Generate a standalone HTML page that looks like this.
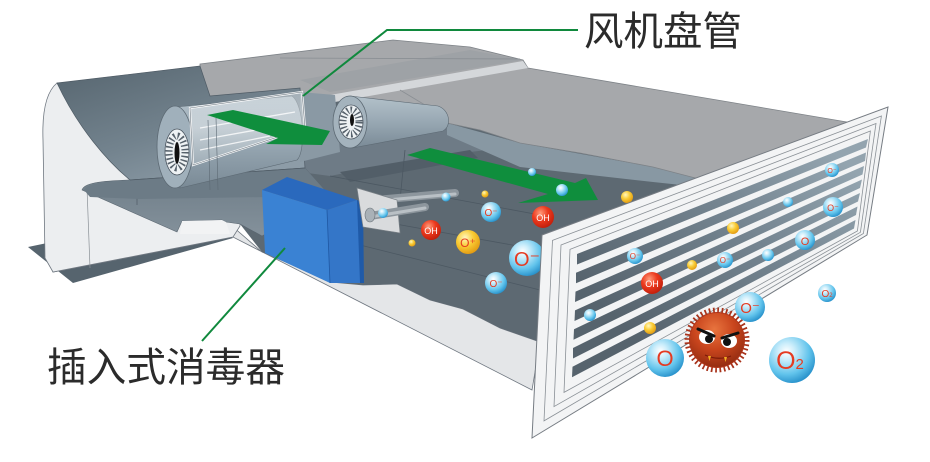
<!DOCTYPE html>
<html><head><meta charset="utf-8"><style>
html,body{margin:0;padding:0;background:#fff;}
svg{display:block;}
</style></head><body>
<svg width="930" height="462" viewBox="0 0 930 462" xmlns="http://www.w3.org/2000/svg">
<defs>
<linearGradient id="hous" x1="0" y1="0" x2="0.7" y2="1">
<stop offset="0" stop-color="#56656f"/><stop offset="0.6" stop-color="#73838e"/><stop offset="1" stop-color="#8d9ca7"/></linearGradient>
<linearGradient id="cyl" x1="0" y1="0" x2="0" y2="1">
<stop offset="0" stop-color="#b3c1ca"/><stop offset="0.5" stop-color="#98a8b3"/><stop offset="1" stop-color="#7a8a96"/></linearGradient>
<linearGradient id="under" x1="0" y1="0" x2="0" y2="1">
<stop offset="0" stop-color="#6c7b86"/><stop offset="1" stop-color="#84919b"/></linearGradient>
<linearGradient id="coil" x1="0" y1="0" x2="0" y2="1">
<stop offset="0" stop-color="#dfe5e9"/><stop offset="0.5" stop-color="#f4f6f7"/><stop offset="1" stop-color="#b9c5cc"/></linearGradient>
<linearGradient id="slat" gradientUnits="userSpaceOnUse" x1="820" y1="140" x2="640" y2="340">
<stop offset="0" stop-color="#93a4af"/><stop offset="0.45" stop-color="#73838f"/><stop offset="1" stop-color="#56636d"/></linearGradient>
<radialGradient id="bb" cx="0.38" cy="0.32" r="0.7">
<stop offset="0" stop-color="#ffffff"/><stop offset="0.25" stop-color="#cdeefb"/><stop offset="0.7" stop-color="#62c4ec"/><stop offset="1" stop-color="#2a93cc"/></radialGradient>
<radialGradient id="rb" cx="0.38" cy="0.32" r="0.7">
<stop offset="0" stop-color="#ff9a7a"/><stop offset="0.5" stop-color="#ec3a1e"/><stop offset="1" stop-color="#c21f0b"/></radialGradient>
<radialGradient id="yb" cx="0.38" cy="0.32" r="0.7">
<stop offset="0" stop-color="#fff7c0"/><stop offset="0.5" stop-color="#f9cc35"/><stop offset="1" stop-color="#e39b12"/></radialGradient>
<radialGradient id="germ" cx="0.45" cy="0.3" r="0.75">
<stop offset="0" stop-color="#e8743e"/><stop offset="0.5" stop-color="#c9451d"/><stop offset="1" stop-color="#8e2a10"/></radialGradient>
</defs>

<!-- dark base plate -->
<polygon points="28,247 73,283 233,238 222,232 52,242" fill="#56646e"/>
<!-- front light wall -->
<polygon points="45,250 53,272 233,237 532,390 540,342 500,328 463,309 430,300 397,284 363,285 330,282 300,268 262,252 232,226 180,225 90,200" fill="#e4e6e8" stroke="#6f7780" stroke-width="0.8"/>
<!-- dark floor -->
<polygon points="300,75 450,105 720,180 542,237 540,342 500,328 463,309 430,300 397,284 363,285 330,282 300,268 262,252 240,224 240,190 320,168" fill="#5d6972"/>
<!-- lighter slate region behind arrow2 -->
<polygon points="300,128 447,124 520,146 470,152 400,162 330,176 300,172" fill="#6e7b86"/>
<polygon points="340,172 470,150 478,158 350,182" fill="#525e68"/>
<g stroke="#4c5862" stroke-width="0.8" fill="none">
<line x1="262" y1="200" x2="540" y2="250"/>
<line x1="330" y1="176" x2="540" y2="215"/>
<line x1="405" y1="150" x2="400" y2="200"/>
<line x1="300" y1="230" x2="540" y2="290"/>
</g>
<!-- back wall band -->
<polygon points="447,123 520,143 653,167 703,180 700,187 653,182 520,167 447,135" fill="#8898a3"/>
<!-- top plate -->
<polygon points="200,64 393,40 470,47 523,60 528,68 847,122 703,180 653,167 580,153 520,143 480,130 447,123 430,108 390,107 333,97 300,93 210,98 200,90" fill="#a6a8ab" stroke="#7e8388" stroke-width="0.8"/>
<polygon points="300,80 470,50 523,60 330,92" fill="#9ea2a6"/>
<polygon points="330,95 523,61 528,68 335,102" fill="#d4d7da"/>
<line x1="280" y1="58" x2="520" y2="59" stroke="#8a8f94" stroke-width="0.8"/>
<line x1="400" y1="90" x2="430" y2="108" stroke="#8a8f94" stroke-width="0.8"/>

<!-- white end cap / foot -->
<path d="M57,83 C46,92 42,112 43,140 L45,258 L53,272 L233,237 L240,226 L240,195 L130,180 Z" fill="#eceef0" stroke="#6f7780" stroke-width="0.8"/>
<!-- under-housing gray -->
<path d="M82,190 C84,183 100,181 130,180 L305,168 L330,196 L300,215 L262,236 L240,224 L226,222 L222,220 L182,221 L177,232 Z" fill="url(#under)" stroke="#5a6670" stroke-width="0.6"/>
<polygon points="182,221 222,220 226,222 230,234 180,234" fill="#f2f3f4"/>
<line x1="137" y1="107" x2="137" y2="205" stroke="#4f5b65" stroke-width="0.7"/>
<line x1="87" y1="188" x2="90" y2="268" stroke="#8a9096" stroke-width="0.7"/>
<!-- housing -->
<path d="M57,83 L200,66 L210,96 L300,88 L305,168 L130,180 C108,162 78,128 57,83 Z" fill="url(#hous)" stroke="#4f5b65" stroke-width="0.7"/>
<path d="M84,190 C87,184 100,182 130,180 L305,168 L330,196 L140,199 L90,197 Z" fill="#6c7b86"/>
<line x1="130" y1="180" x2="305" y2="168" stroke="#4f5b65" stroke-width="0.7"/>

<!-- fan 2 housing -->
<polygon points="300,92 335,95 340,152 300,162" fill="#8a99a4"/>
<!-- fan 2 cylinder -->
<path d="M350,96 L438,106 C450,110 452,126 443,131 L352,148 Z" fill="url(#cyl)" stroke="#5d6a74" stroke-width="0.6"/>
<ellipse cx="350" cy="122" rx="17" ry="26" fill="#a4b3bd" stroke="#5d6a74" stroke-width="0.8"/>
<ellipse cx="351" cy="122" rx="12" ry="17" fill="#eef2f4" stroke="#4a5560" stroke-width="0.8"/>
<ellipse cx="351" cy="122" rx="8" ry="12" fill="none" stroke="#56616b" stroke-width="7" stroke-dasharray="1.4 2.2"/>
<ellipse cx="352" cy="120" rx="2" ry="6" fill="#111"/>

<!-- fan 1 cylinder -->
<path d="M176,107 L292,96 C304,104 306,152 297,160 L180,188 Z" fill="url(#cyl)" stroke="#5d6a74" stroke-width="0.6"/>
<ellipse cx="175" cy="147" rx="18" ry="41" fill="#a0b0bb" stroke="#5d6a74" stroke-width="0.8"/>
<ellipse cx="177" cy="152" rx="12" ry="23" fill="#eef2f4" stroke="#4a5560" stroke-width="0.8"/>
<ellipse cx="177" cy="152" rx="8" ry="16" fill="none" stroke="#56616b" stroke-width="7" stroke-dasharray="1.5 2.4"/>
<ellipse cx="177" cy="153" rx="2.5" ry="11" fill="#111"/>
<!-- coil frame -->
<polygon points="190,108 302,92 305,128 193,165" fill="url(#coil)" fill-opacity="0.45" stroke="#f6f7f8" stroke-width="2.2"/>
<polygon points="190,108 302,92 305,128 193,165" fill="none" stroke="#6f7a83" stroke-width="0.6"/>
<g stroke="#ffffff" stroke-width="1.3" opacity="0.8">
<line x1="200" y1="128" x2="295" y2="112"/>
<line x1="200" y1="140" x2="290" y2="124"/>
<line x1="200" y1="150" x2="270" y2="136"/>
</g>
<line x1="208" y1="120" x2="210" y2="190" stroke="#5d6a74" stroke-width="0.6"/>
<line x1="216" y1="118" x2="218" y2="190" stroke="#5d6a74" stroke-width="0.6"/>
<!-- arrow 1 -->
<polygon points="207,115 233,110 330,131 322,145 266,144 278,138" fill="#0f8e3d"/>

<!-- blue box -->
<polygon points="262,190 287,177 357,200 327,210" fill="#2a69bd"/>
<polygon points="327,210 357,200 363,283 330,283" fill="#3476c8"/>
<polygon points="357,200 363,202 364,283 360,283" fill="#1f5aa8"/>
<polygon points="262,190 327,210 330,283 265,253" fill="#3a82d3"/>
<line x1="327" y1="210" x2="330" y2="283" stroke="#1f58a3" stroke-width="0.8"/>
<!-- electrode plate & tubes -->
<line x1="375" y1="200" x2="455" y2="193" stroke="#8d969d" stroke-width="8" stroke-linecap="round"/>
<line x1="375" y1="201" x2="455" y2="194" stroke="#b9c0c5" stroke-width="3" stroke-linecap="round"/>
<polygon points="357,188 397,200 400,233 363,227" fill="#d9dbdd" stroke="#7a8187" stroke-width="0.7"/>
<line x1="370" y1="216" x2="425" y2="207" stroke="#8d969d" stroke-width="8" stroke-linecap="round"/>
<line x1="370" y1="217" x2="425" y2="208" stroke="#b9c0c5" stroke-width="3" stroke-linecap="round"/>
<ellipse cx="370" cy="215" rx="5" ry="7" fill="#a9b1b7" stroke="#6f777d" stroke-width="0.6"/>

<!-- arrow 2 -->
<polygon points="407,155 430,148 575,183 586,178 598,200 518,203 548,194" fill="#0f8e3d"/>

<!-- interior bubbles -->
<g font-family="Liberation Sans, sans-serif" text-anchor="middle">
<circle cx="532" cy="172" r="4" fill="url(#bb)"/>
<circle cx="562" cy="190" r="6" fill="url(#bb)"/>
<circle cx="446" cy="197" r="4.5" fill="url(#bb)"/>
<circle cx="383" cy="213" r="5" fill="url(#bb)"/>
<circle cx="485" cy="194" r="3.5" fill="url(#yb)"/>
<circle cx="412" cy="243" r="3.5" fill="url(#yb)"/>
<circle cx="627" cy="197" r="6" fill="url(#yb)"/>
<circle cx="491" cy="212" r="10" fill="url(#bb)"/><text x="491" y="216" font-size="10" fill="#e53b22">O⁻</text>
<circle cx="496" cy="283" r="11" fill="url(#bb)"/><text x="496" y="287" font-size="10" fill="#e53b22">O⁻</text>
<circle cx="431" cy="230" r="10" fill="url(#rb)"/><text x="431" y="234" font-size="9" fill="#fff">OH</text>
<circle cx="543" cy="217" r="11" fill="url(#rb)"/><text x="543" y="221" font-size="9" fill="#fff">OH</text>
<circle cx="468" cy="242" r="12" fill="url(#yb)"/><text x="468" y="247" font-size="12" fill="#e53b22">O⁺</text>
<circle cx="527" cy="258" r="18" fill="url(#bb)"/><text x="527" y="266" font-size="20" fill="#e53b22">O⁻</text>
</g>

<!-- grille frame -->
<polygon points="542,235 888,107 867,235 532,438" fill="#f3f4f5" stroke="#767c83" stroke-width="1"/>
<g fill="none" stroke="#8a9096" stroke-width="0.8">
<polygon points="552.5,240.4 881.4,116 863.4,233.5 544,420.9"/>
<polygon points="561,245 876,123.5 860.4,232.3 554,406.6"/>
<polygon points="570,249.4 870.4,131 857.4,231 564,392.4"/>
</g>
<g fill="url(#slat)">
<polygon points="577,254 868,139 866,147.5 577,264.5"/>
<polygon points="576,272.8 866,152.5 865,161 576,283.3"/>
<polygon points="575.5,291.6 864,166 862.5,174.5 575,302"/>
<polygon points="575,310.4 862,179.5 860,188 574.5,321"/>
<polygon points="574,329.2 860,193 858,201.5 573.5,339.7"/>
<polygon points="573,348 857.5,206.5 856,215 573,358.5"/>
<polygon points="572.5,366.8 855.5,220 854,228.5 572,377.3"/>
</g>

<!-- germ -->
<g>
<circle cx="717" cy="340" r="28" fill="#b8391a" stroke="#a8321a" stroke-width="9" stroke-dasharray="1.6 2.4"/>
<circle cx="717" cy="340" r="27" fill="url(#germ)"/>
<ellipse cx="707" cy="337" rx="8" ry="7" fill="#fff"/>
<ellipse cx="729" cy="341" rx="8" ry="7" fill="#fff"/>
<circle cx="709" cy="339" r="4" fill="#111"/>
<circle cx="727" cy="342" r="4" fill="#111"/>
<path d="M698,329 L714,336" stroke="#111" stroke-width="3" stroke-linecap="round"/>
<path d="M738,333 L722,338" stroke="#111" stroke-width="3" stroke-linecap="round"/>
<path d="M705,355 Q718,361 731,356" stroke="#7a1a08" stroke-width="1.2" fill="none"/>
<polygon points="708,356 711,356 709.5,361" fill="#f5b020"/>
<polygon points="724,357 727,357 725.5,362" fill="#f5b020"/>
</g>

<!-- grille & outside bubbles -->
<g font-family="Liberation Sans, sans-serif" text-anchor="middle">
<circle cx="832" cy="170" r="7" fill="url(#bb)"/><text x="832" y="173" font-size="7" fill="#e53b22">O⁻</text>
<circle cx="833" cy="207" r="10" fill="url(#bb)"/><text x="833" y="211" font-size="9" fill="#e53b22">O⁻</text>
<circle cx="788" cy="202" r="5" fill="url(#bb)"/>
<circle cx="733" cy="228" r="6" fill="url(#yb)"/>
<circle cx="805" cy="240" r="10" fill="url(#bb)"/><text x="805" y="245" font-size="11" fill="#e53b22">O</text>
<circle cx="635" cy="256" r="8" fill="url(#bb)"/><text x="635" y="259" font-size="8" fill="#e53b22">O⁻</text>
<circle cx="692" cy="265" r="5" fill="url(#yb)"/>
<circle cx="725" cy="260" r="8" fill="url(#bb)"/><text x="725" y="263" font-size="8" fill="#e53b22">O⁻</text>
<circle cx="768" cy="255" r="6" fill="url(#bb)"/>
<circle cx="652" cy="283" r="11" fill="url(#rb)"/><text x="652" y="287" font-size="9" fill="#fff">OH</text>
<circle cx="590" cy="315" r="6" fill="url(#bb)"/>
<circle cx="650" cy="328" r="6" fill="url(#yb)"/>
<circle cx="827" cy="293" r="9" fill="url(#bb)"/><text x="827" y="297" font-size="10" fill="#e53b22">O<tspan font-size="6">2</tspan></text>
<circle cx="750" cy="307" r="15" fill="url(#bb)"/><text x="750" y="313" font-size="15" fill="#e53b22">O⁻</text>
<circle cx="665" cy="358" r="19" fill="url(#bb)"/><text x="665" y="366" font-size="22" fill="#e53b22">O</text>
<circle cx="792" cy="360" r="23" fill="url(#bb)"/><text x="790" y="369" font-size="25" fill="#e53b22">O<tspan font-size="15">2</tspan></text>
</g>

<!-- leader lines -->
<polyline points="303,96 387,30 578,30" fill="none" stroke="#10893d" stroke-width="2"/>
<line x1="202" y1="341" x2="285" y2="248" stroke="#10893d" stroke-width="2"/>

<!-- labels -->
<text x="584" y="45" font-family="Liberation Sans, 'Noto Sans CJK SC', sans-serif" font-size="40" fill="#2b2b2b" textLength="158" lengthAdjust="spacingAndGlyphs">风机盘管</text>
<text x="47" y="381" font-family="Liberation Sans, 'Noto Sans CJK SC', sans-serif" font-size="40" fill="#2b2b2b" textLength="238" lengthAdjust="spacingAndGlyphs">插入式消毒器</text>
</svg>
</body></html>
